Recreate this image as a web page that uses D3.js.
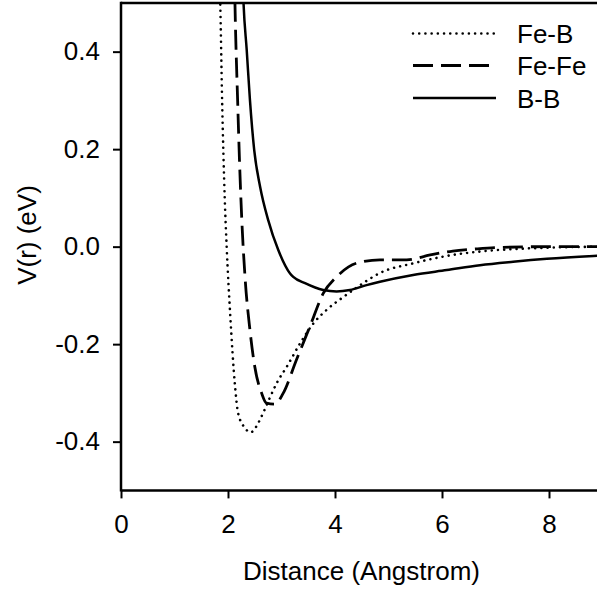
<!DOCTYPE html>
<html><head><meta charset="utf-8">
<script src="https://cdn.jsdelivr.net/npm/d3@7"></script>
<style>html,body{margin:0;padding:0;background:#fff;overflow:hidden}</style>
</head><body>
<script>
const xTicks = [0, 2, 4, 6, 8];
const yTicks = [-0.4, -0.2, 0.0, 0.2, 0.4];
const seriesNames = ["Fe-B", "Fe-Fe", "B-B"];
const feB = [[1.84,0.56],[1.855,0.50],[1.89,0.30],[1.94,0.096],[1.975,0.0],[2.04,-0.137],[2.13,-0.284],[2.19,-0.342],[2.31,-0.371],[2.42,-0.381],[2.54,-0.367],[2.61,-0.352],[2.67,-0.338],[2.79,-0.308],[2.91,-0.280],[3.10,-0.246],[3.35,-0.198],[3.60,-0.157],[3.84,-0.130],[4.16,-0.103],[4.47,-0.079],[4.84,-0.054],[5.47,-0.034],[6.09,-0.019],[6.71,-0.010],[7.33,-0.005],[8.0,-0.002],[9.0,0.0]];
const feFe = [[2.12,0.56],[2.13,0.50],[2.18,0.30],[2.22,0.16],[2.26,0.05],[2.32,-0.065],[2.41,-0.171],[2.50,-0.246],[2.63,-0.301],[2.72,-0.321],[2.88,-0.323],[3.03,-0.301],[3.28,-0.232],[3.53,-0.164],[3.78,-0.096],[4.03,-0.062],[4.40,-0.034],[4.84,-0.027],[5.34,-0.027],[5.78,-0.017],[6.2,-0.009],[6.6,-0.005],[7.0,-0.002],[8.0,0.0],[9.0,0.0]];
const bB = [[2.27,0.56],[2.29,0.50],[2.35,0.403],[2.41,0.301],[2.49,0.198],[2.60,0.123],[2.75,0.055],[2.94,-0.007],[3.16,-0.055],[3.22,-0.062],[3.44,-0.075],[3.78,-0.089],[4.03,-0.092],[4.28,-0.089],[4.59,-0.079],[4.84,-0.072],[5.46,-0.058],[6.09,-0.048],[6.71,-0.038],[7.33,-0.031],[7.96,-0.025],[8.83,-0.019],[9.0,-0.018]];
const seriesData = [feB, feFe, bB];
const dashes = ["0.01,6.2", "20,8", null];
const caps = ["round", "butt", "butt"];
const widths = [2.6, 2.8, 2.5];

const W = 597, H = 597;
const font = "'Liberation Sans', Arial, sans-serif";
const FS = 26;
const svg = d3.select("body").append("svg").attr("width", W).attr("height", H)
  .style("font-family", font);

const x = d3.scaleLinear().domain([0, 9]).range([121, 602.5]);
const y = d3.scaleLinear().domain([-0.5, 0.5]).range([490.4, 2.9]);

svg.append("defs").append("clipPath").attr("id", "clip")
  .append("rect").attr("x", 121).attr("y", 2.9).attr("width", 481.5).attr("height", 487.5);

const line = d3.line().x(d => x(d[0])).y(d => y(d[1])).curve(d3.curveMonotoneX);
const g = svg.append("g").attr("clip-path", "url(#clip)");
seriesData.forEach((s, i) => {
  g.append("path").attr("d", line(s)).attr("fill", "none").attr("stroke", "#000")
    .attr("stroke-width", widths[i]).attr("stroke-dasharray", dashes[i]).attr("stroke-linecap", caps[i]);
});

// axes
const xAxis = svg.append("g").attr("transform", `translate(0,${y(-0.5)})`)
  .call(d3.axisBottom(x).tickValues(xTicks).tickSize(8).tickPadding(16).tickFormat(d3.format("d")));
const yAxis = svg.append("g").attr("transform", `translate(${x(0)},0)`)
  .call(d3.axisLeft(y).tickValues(yTicks).tickSize(8).tickPadding(13).tickFormat(d3.format(".1f")));
[xAxis, yAxis].forEach(a => {
  a.select(".domain").remove();
  a.selectAll("line").attr("stroke", "#000").attr("stroke-width", 2);
  a.selectAll("text").attr("font-size", FS).attr("font-family", font).attr("fill", "#000");
});
yAxis.selectAll("text").text(d => d3.format(".1f")(d).replace("−", "-"));

// frame lines
svg.append("line").attr("x1", x(0)).attr("x2", 602).attr("y1", y(-0.5)).attr("y2", y(-0.5)).attr("stroke", "#000").attr("stroke-width", 2.5);
svg.append("line").attr("x1", x(0)).attr("x2", 602).attr("y1", y(0.5)).attr("y2", y(0.5)).attr("stroke", "#000").attr("stroke-width", 2.5);
svg.append("line").attr("x1", x(0)).attr("x2", x(0)).attr("y1", y(0.5) - 1.2).attr("y2", y(-0.5) + 1.2).attr("stroke", "#000").attr("stroke-width", 2.5);

// titles
svg.append("text").attr("x", 361.5).attr("y", 580).attr("text-anchor", "middle")
  .attr("font-size", FS).text("Distance (Angstrom)");
svg.append("text").attr("transform", "translate(36,235) rotate(-90)").attr("text-anchor", "middle")
  .attr("font-size", FS).text("V(r) (eV)");

// legend
const legY = [33.5, 65.5, 98];
seriesNames.forEach((n, i) => {
  svg.append("line").attr("x1", 413).attr("x2", 496).attr("y1", legY[i]).attr("y2", legY[i])
    .attr("stroke", "#000").attr("stroke-width", widths[i]).attr("stroke-dasharray", dashes[i]).attr("stroke-linecap", caps[i]);
  svg.append("text").attr("x", 517).attr("y", legY[i] + 9.5).attr("font-size", FS).text(n);
});
</script>
</body></html>
